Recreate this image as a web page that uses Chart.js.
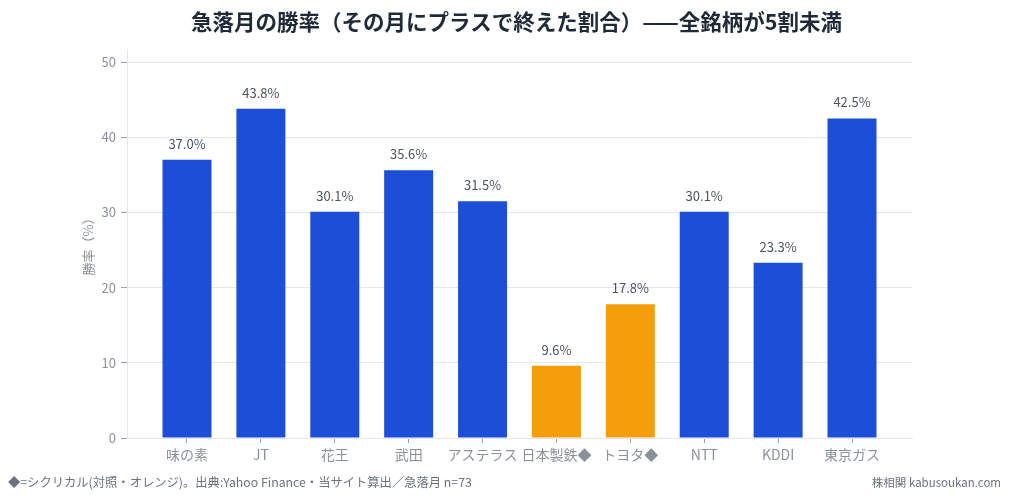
<!DOCTYPE html>
<html><head><meta charset="utf-8">
<script src="https://cdn.jsdelivr.net/npm/chart.js@4/dist/chart.umd.min.js"></script>
<style>
html,body{margin:0;padding:0;background:#fff;}
#wrap{position:relative;width:1013px;height:500px;font-family:"Noto Sans CJK JP","Noto Sans",sans-serif;}
#title{position:absolute;left:10px;top:5px;width:1013px;text-align:center;font-size:21.5px;font-weight:700;color:#1f2937;}
#note{position:absolute;left:8px;top:473px;font-size:12.3px;color:#6b7280;}
#brand{position:absolute;right:12px;top:474px;font-size:11.5px;color:#6b7280;}
canvas{position:absolute;left:0;top:0;}
</style></head>
<body>
<div id="wrap">
<canvas id="c" width="1013" height="500"></canvas>
<div id="title">急落月の勝率（その月にプラスで終えた割合）——全銘柄が5割未満</div>
<div id="note">◆=シクリカル(対照・オレンジ)。出典:Yahoo Finance・当サイト算出／急落月 n=73</div>
<div id="brand">株相関 kabusoukan.com</div>
</div>
<script>
const categories = ["味の素","JT","花王","武田","アステラス","日本製鉄◆","トヨタ◆","NTT","KDDI","東京ガス"];
const winRates = [37.0, 43.8, 30.1, 35.6, 31.5, 9.6, 17.8, 30.1, 23.3, 42.5];
const cyclical = [false,false,false,false,false,true,true,false,false,false];
const yTicks = [0,10,20,30,40,50];

const BLUE = '#1d4ed8', ORANGE = '#f59e0b';
const FONT = '"Noto Sans CJK JP","Noto Sans",sans-serif';

const labelPlugin = {
  id: 'barLabels',
  afterDatasetsDraw(chart) {
    const ctx = chart.ctx;
    const meta = chart.getDatasetMeta(0);
    ctx.save();
    ctx.font = '13px ' + FONT;
    ctx.fillStyle = '#4b5563';
    ctx.textAlign = 'center';
    ctx.textBaseline = 'middle';
    meta.data.forEach((bar, i) => {
      ctx.fillText(winRates[i].toFixed(1) + '%', bar.x, bar.y - 16);
    });
    ctx.restore();
  }
};

new Chart(document.getElementById('c'), {
  type: 'bar',
  data: {
    datasets: [{
      data: winRates.map((v, i) => ({x: i, y: v})),
      backgroundColor: cyclical.map(c => c ? ORANGE : BLUE),
      barPercentage: 0.663,
      categoryPercentage: 1.0
    }]
  },
  options: {
    responsive: false,
    animation: false,
    devicePixelRatio: 1,
    layout: {padding: {top: 49, right: 101, left: 76, bottom: 0}},
    plugins: {legend: {display: false}, tooltip: {enabled: false}, title: {display: false}},
    scales: {
      x: {
        type: 'linear',
        offset: false,
        min: -0.812, max: 9.812,
        afterBuildTicks(s) { s.ticks = categories.map((_, i) => ({value: i})); },
        afterFit(s) { s.height = 62; },
        ticks: {
          callback: (v) => categories[v],
          color: '#8b919c',
          font: {family: FONT, size: 14},
          padding: 3,
          autoSkip: false,
          maxRotation: 0
        },
        grid: {offset: false, drawOnChartArea: false, drawTicks: true, tickLength: 5, color: '#9ca3af'},
        border: {color: '#e5e7eb', width: 1}
      },
      y: {
        min: 0, max: 51.73,
        afterBuildTicks(s) { s.ticks = yTicks.map(v => ({value: v})); },
        afterFit(s) { s.width = 51; },
        ticks: {color: '#8b919c', font: {family: FONT, size: 13}, padding: 5},
        grid: {color: '#e5e7eb', tickLength: 6, tickColor: '#9ca3af'},
        border: {color: '#e5e7eb', width: 1},
        title: {display: true, text: '勝率（%）', color: '#8b919c', font: {family: FONT, size: 13}, padding: {top: 4, bottom: 4}}
      }
    }
  },
  plugins: [labelPlugin]
});
</script>
</body></html>
